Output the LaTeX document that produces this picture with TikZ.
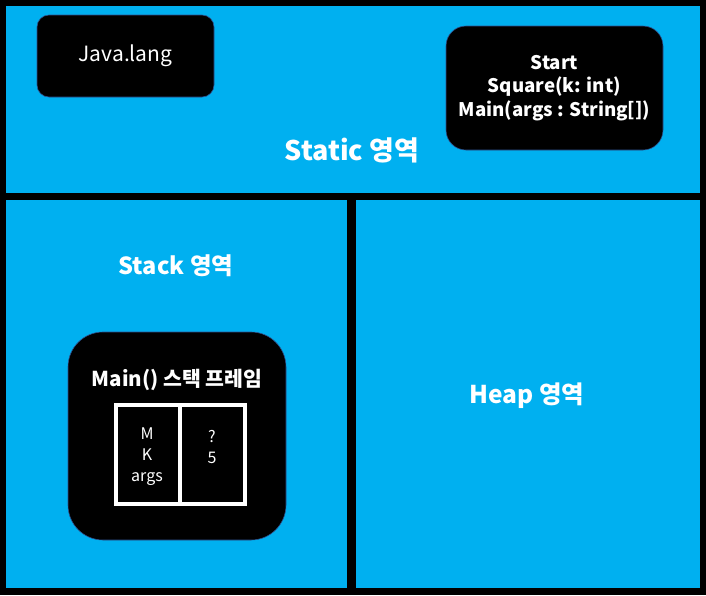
\documentclass[tikz,border=0pt]{standalone}
\usepackage{fontspec}
\setmainfont{Noto Sans CJK KR}
\usepackage{xcolor}
\usetikzlibrary{positioning}
\definecolor{areablue}{HTML}{00B0F0}
\definecolor{edgeblue}{HTML}{2F528F}

\begin{document}
\begin{tikzpicture}[
		x=1pt, y=-1pt,
		area/.style={fill=areablue, inner sep=0pt, outer sep=0pt},
		blk/.style={fill=black, draw=edgeblue, line width=0.6pt, text=white,
				align=center, inner sep=0pt, outer sep=0pt},
		cell/.style={draw=white, line width=4pt, inner sep=0pt, outer sep=0pt,
				minimum height=99pt},
		areatxt/.style={text=white, font=\fontsize{24.5}{28}\selectfont\bfseries},
		celltxt/.style={text=white, align=center, font=\fontsize{16}{21}\selectfont}
		]
		\fill[black] (0,0) rectangle (706,595);
		\useasboundingbox (0,0) rectangle (706,595);
		% three memory areas
		\node[area, minimum width=694pt, minimum height=187pt] (static) at (353,99.5) {};
		\node[area, minimum width=341pt, minimum height=388pt] (stack) at (176.5,394) {};
		\node[area, minimum width=344pt, minimum height=388pt] (heap) at (528,394) {};
		\node[areatxt, font=\fontsize{27}{30}\selectfont\bfseries] (staticlbl)
		at (352,150) {Static 영역};
		\node[areatxt, font=\fontsize{23.5}{28}\selectfont\bfseries] (stacklbl)
		at (176,266) {Stack 영역};
		\node[areatxt] (heaplbl) at (527,396) {Heap 영역};
		% static contents
		\node[blk, rounded corners=12pt, minimum width=177pt, minimum height=82pt,
			font=\fontsize{21}{24}\selectfont] (javalang) at (125.5,56) {Java.lang};
		\node[blk, rounded corners=20pt, minimum width=217pt, minimum height=124pt,
			font=\fontsize{18.7}{23.5}\selectfont\bfseries] (methods) at (554.5,88)
		{Start\\Square(k: int)\\Main(args : String[])};
		% stack frame
		\node[blk, rounded corners=35pt, minimum width=218pt, minimum height=208pt]
		(frame) at (177,436) {};
		\node[text=white, font=\fontsize{20.5}{24}\selectfont\bfseries] (frametitle)
		at (177,380) {Main() 스택 프레임};
		\node[cell, minimum width=64pt] (namecell) at (148,454.5) {};
		\node[cell, minimum width=65pt, right=0pt of namecell] (valuecell) {};
		\node[celltxt] (names) at (147,457) {M\\K\\args};
		\node[celltxt] (values) at (212,446.5) {?\\5};
	\end{tikzpicture}
\end{document}
